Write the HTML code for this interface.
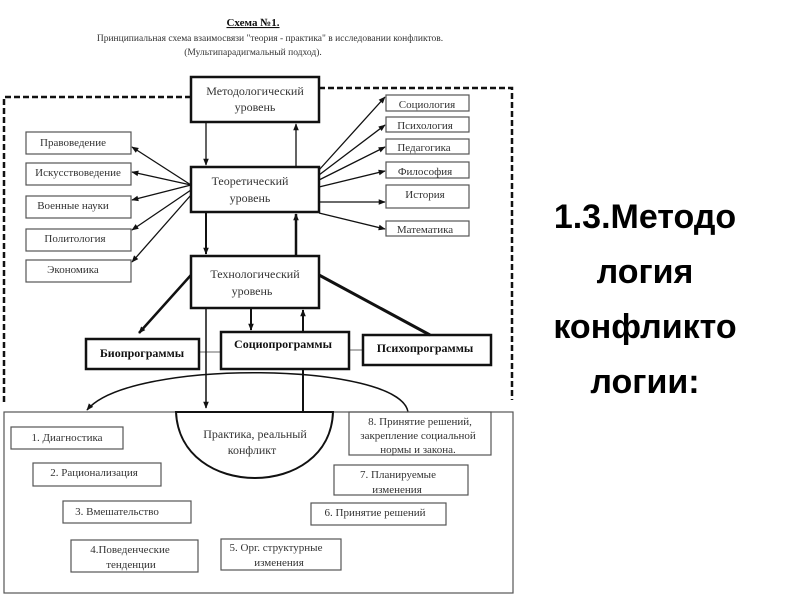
<!DOCTYPE html>
<html><head><meta charset="utf-8"><style>
html,body{margin:0;padding:0;background:#fff;width:800px;height:600px;overflow:hidden}
svg{position:absolute;left:0;top:0}
.t{font-family:"Liberation Serif",serif;font-size:11px;fill:#333;text-anchor:middle}
.b{font-family:"Liberation Serif",serif;font-size:12px;font-weight:bold;fill:#111;text-anchor:middle}
.r{font-family:"Liberation Sans",sans-serif;font-size:34px;font-weight:bold;fill:#000;text-anchor:middle}
</style></head><body>
<svg width="800" height="600" viewBox="0 0 800 600">
<defs><marker id="a" viewBox="0 0 10 10" refX="9" refY="5" markerWidth="8" markerHeight="7" markerUnits="userSpaceOnUse" orient="auto"><path d="M0,1L10,5L0,9z" fill="#111"/></marker></defs>
<text x="253" y="26" class="b" style="font-size:11px;text-decoration:underline">Схема №1.</text>
<text x="270" y="41" class="t" style="font-size:9.5px">Принципиальная схема взаимосвязи "теория - практика" в исследовании конфликтов.</text>
<text x="253" y="55" class="t" style="font-size:9.5px">(Мультипарадигмальный подход).</text>
<g fill="none" stroke="#111">
<path d="M191,97H4V405" stroke-width="2.5" stroke-dasharray="6,3"/>
<path d="M319,88H512V400" stroke-width="2.5" stroke-dasharray="6,3"/>
<rect x="191" y="77" width="128" height="45" stroke-width="2.5"/>
<rect x="191" y="167" width="128" height="45" stroke-width="2.5"/>
<rect x="191" y="256" width="128" height="52" stroke-width="2.5"/>
<g stroke-width="1.2" stroke="#555">
<rect x="26" y="132" width="105" height="22"/><rect x="26" y="163" width="105" height="22"/>
<rect x="26" y="196" width="105" height="22"/><rect x="26" y="229" width="105" height="22"/>
<rect x="26" y="260" width="105" height="22"/>
<rect x="386" y="95" width="83" height="16"/><rect x="386" y="117" width="83" height="15"/>
<rect x="386" y="139" width="83" height="15"/><rect x="386" y="162" width="83" height="16"/>
<rect x="386" y="185" width="83" height="23"/><rect x="386" y="221" width="83" height="15"/>
</g>
<g stroke-width="1.3">
<path d="M206,122V165" marker-end="url(#a)"/><path d="M296,167V124" marker-end="url(#a)"/>
<path d="M206,212V254" marker-end="url(#a)" stroke-width="2"/><path d="M296,256V214" marker-end="url(#a)" stroke-width="2.5"/>
<path d="M191,185L132,147" marker-end="url(#a)"/><path d="M191,185L132,172" marker-end="url(#a)"/>
<path d="M191,185L132,200" marker-end="url(#a)"/><path d="M191,190L132,230" marker-end="url(#a)"/>
<path d="M191,195L132,262" marker-end="url(#a)"/>
<path d="M319,170L385,97" marker-end="url(#a)"/><path d="M319,175L385,125" marker-end="url(#a)"/>
<path d="M319,180L385,147" marker-end="url(#a)"/><path d="M319,187L385,171" marker-end="url(#a)"/>
<path d="M319,202L385,202" marker-end="url(#a)"/><path d="M319,213L385,229" marker-end="url(#a)"/>
</g>
<path d="M191,275L139,333" stroke-width="2.5" marker-end="url(#a)"/>
<path d="M319,275L430,335" stroke-width="3"/>
<path d="M251,308V330" stroke-width="2" marker-end="url(#a)"/><path d="M303,332V310" stroke-width="2" marker-end="url(#a)"/>
<path d="M199,352H221M349,350H363" stroke-width="1" stroke="#666"/>
<rect x="86" y="339" width="113" height="30" stroke-width="2.5"/>
<rect x="221" y="332" width="128" height="37" stroke-width="2.5"/>
<rect x="363" y="335" width="128" height="30" stroke-width="2.5"/>
<path d="M206,308V408" stroke-width="1.5" marker-end="url(#a)"/>
<path d="M303,369V412" stroke-width="2"/>
<path d="M408,412C400,362 130,358 87,410" stroke-width="1.5" marker-end="url(#a)"/>
<rect x="4" y="412" width="509" height="181" stroke-width="1.2" stroke="#555"/>
<path d="M176,412C180,500 330,500 333,412Z" stroke-width="2" fill="#fff"/>
<g stroke-width="1.2" stroke="#555">
<rect x="11" y="427" width="112" height="22"/><rect x="33" y="463" width="128" height="23"/>
<rect x="63" y="501" width="128" height="22"/><rect x="71" y="540" width="127" height="32"/>
<rect x="221" y="539" width="120" height="31"/><rect x="311" y="503" width="135" height="22"/>
<rect x="334" y="465" width="134" height="30"/><rect x="349" y="412" width="142" height="43"/>
</g>
</g>
<text x="255" y="95" class="t" style="font-size:12px">Методологический</text><text x="255" y="111" class="t" style="font-size:12px">уровень</text>
<text x="250" y="185" class="t" style="font-size:12px">Теоретический</text><text x="250" y="202" class="t" style="font-size:12px">уровень</text>
<text x="255" y="278" class="t" style="font-size:12px">Технологический</text><text x="252" y="295" class="t" style="font-size:12px">уровень</text>
<text x="73" y="146" class="t">Правоведение</text><text x="78" y="176" class="t">Искусствоведение</text>
<text x="73" y="209" class="t">Военные науки</text><text x="75" y="242" class="t">Политология</text>
<text x="73" y="273" class="t">Экономика</text>
<text x="427" y="108" class="t">Социология</text><text x="425" y="129" class="t">Психология</text>
<text x="424" y="151" class="t">Педагогика</text><text x="425" y="175" class="t">Философия</text>
<text x="425" y="198" class="t">История</text><text x="425" y="233" class="t">Математика</text>
<text x="142" y="357" class="b">Биопрограммы</text><text x="283" y="348" class="b">Социопрограммы</text>
<text x="425" y="352" class="b">Психопрограммы</text>
<text x="255" y="438" class="t" style="font-size:12px">Практика, реальный</text><text x="252" y="454" class="t" style="font-size:12px">конфликт</text>
<text x="67" y="441" class="t">1. Диагностика</text><text x="94" y="476" class="t">2. Рационализация</text>
<text x="117" y="515" class="t">3. Вмешательство</text>
<text x="130" y="553" class="t">4.Поведенческие</text><text x="131" y="568" class="t">тенденции</text>
<text x="276" y="551" class="t">5. Орг. структурные</text><text x="279" y="566" class="t">изменения</text>
<text x="375" y="516" class="t">6. Принятие решений</text>
<text x="398" y="478" class="t">7. Планируемые</text><text x="397" y="493" class="t">изменения</text>
<text x="420" y="425" class="t">8. Принятие решений,</text><text x="418" y="439" class="t">закрепление социальной</text><text x="418" y="453" class="t">нормы и закона.</text>
<text x="645" y="228" class="r">1.3.Методо</text>
<text x="645" y="283" class="r">логия</text>
<text x="645" y="338" class="r">конфликто</text>
<text x="645" y="393" class="r">логии:</text>
</svg>
</body></html>
